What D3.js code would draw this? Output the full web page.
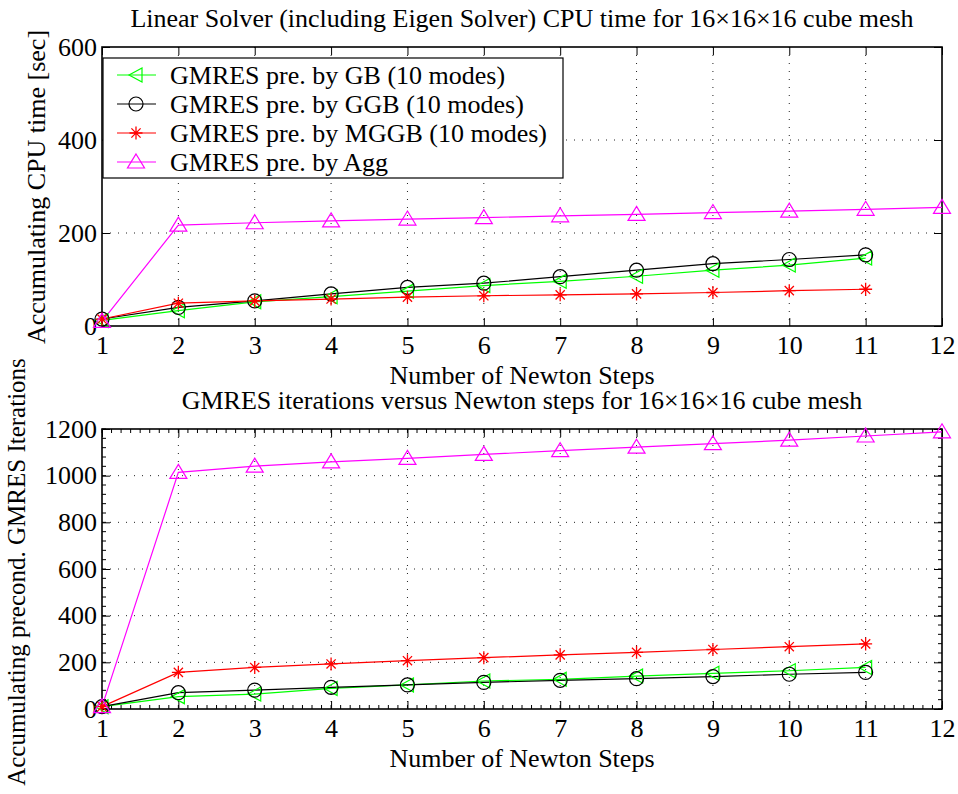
<!DOCTYPE html>
<html>
<head>
<meta charset="utf-8">
<script src="https://cdn.jsdelivr.net/npm/d3@7"></script>
<style>
  body { margin: 0; background: #fff; }
  svg text { font-family: "Liberation Serif", "Times New Roman", serif !important; fill: #000; }
</style>
</head>
<body>
<div id="chart-area"></div>
<script>
// Newton steps
let steps = [1, 2, 3, 4, 5, 6, 7, 8, 9, 10, 11];
let stepsAgg = [1, 2, 3, 4, 5, 6, 7, 8, 9, 10, 11, 12];
let xTicks = [1, 2, 3, 4, 5, 6, 7, 8, 9, 10, 11, 12];

// top panel: accumulated CPU time [sec]
let cpuGB   = [12, 33, 52, 63, 75, 87, 96, 107, 120, 131, 146];
let cpuGGB  = [15, 40, 54, 69, 83, 92, 106, 120, 134, 143, 153];
let cpuMGGB = [15, 49, 54, 58, 62, 65, 67, 69, 72, 76, 79];
let cpuAgg  = [10, 217, 222, 226, 230, 233, 237, 240, 244, 247, 251, 255];
let cpuTicks = [0, 200, 400, 600];

// bottom panel: accumulated GMRES iterations
let itGB   = [10, 53, 64, 88, 103, 120, 127, 141, 153, 164, 178];
let itGGB  = [10, 70, 81, 93, 103, 114, 123, 130, 139, 149, 157];
let itMGGB = [10, 157, 178, 193, 207, 220, 232, 243, 255, 267, 279];
let itAgg  = [10, 1014, 1041, 1059, 1074, 1091, 1107, 1122, 1137, 1152, 1170, 1188];
let itTicks = [0, 200, 400, 600, 800, 1000, 1200];

let seriesNames = ["GMRES pre. by GB (10 modes)", "GMRES pre. by GGB (10 modes)",
                   "GMRES pre. by MGGB (10 modes)", "GMRES pre. by Agg"];
let colors = ["#00ff00", "#000000", "#ff0000", "#ff00ff"];
let shapes = ["tri-left", "circle", "star", "tri-up"];

let W = 958, H = 794;
let FS = 26;
let svg = d3.select("#chart-area").append("svg")
    .attr("width", W).attr("height", H);

function marker(g, shape, color, cx, cy) {
    if (shape == "circle") {
        g.append("circle").attr("cx", cx).attr("cy", cy).attr("r", 7)
            .attr("fill", "none").attr("stroke", color).attr("stroke-width", 1.2);
    } else if (shape == "tri-left") {
        g.append("path")
            .attr("d", `M${cx-7},${cy} L${cx+6},${cy-7} L${cx+6},${cy+7} Z`)
            .attr("fill", "none").attr("stroke", color).attr("stroke-width", 1.2);
    } else if (shape == "tri-up") {
        g.append("path")
            .attr("d", `M${cx},${cy-8} L${cx+8.5},${cy+6} L${cx-8.5},${cy+6} Z`)
            .attr("fill", "none").attr("stroke", color).attr("stroke-width", 1.2);
    } else {
        let r = 6.5;
        let d = "";
        [0, 45, 90, 135].forEach(a => {
            let t = a * Math.PI / 180;
            d += `M${cx - r*Math.cos(t)},${cy - r*Math.sin(t)} L${cx + r*Math.cos(t)},${cy + r*Math.sin(t)} `;
        });
        g.append("path").attr("d", d).attr("stroke", color).attr("stroke-width", 1.3);
    }
}

function panel(opt) {
    let x = d3.scaleLinear().domain([1, 12]).range([opt.left, opt.right]);
    let y = d3.scaleLinear().domain([0, opt.ymax]).range([opt.bottom, opt.top]);
    let g = svg.append("g");

    // dotted grid
    g.append("g").selectAll("line.gx").data(xTicks.slice(1, -1)).enter().append("line")
        .attr("x1", d => x(d)).attr("x2", d => x(d))
        .attr("y1", opt.top).attr("y2", opt.bottom)
        .attr("stroke", "#222").attr("stroke-width", 1).attr("stroke-dasharray", "1,7");
    g.append("g").selectAll("line.gy").data(opt.yTicks.slice(1, -1)).enter().append("line")
        .attr("y1", d => y(d)).attr("y2", d => y(d))
        .attr("x1", opt.left).attr("x2", opt.right)
        .attr("stroke", "#222").attr("stroke-width", 1).attr("stroke-dasharray", "1,7");

    // axes with inward ticks on all sides
    let tl = 8;
    g.append("g").attr("transform", `translate(0,${opt.bottom})`)
        .call(d3.axisBottom(x).tickValues(xTicks).tickSize(-tl).tickPadding(10).tickFormat(d3.format("d")))
        .call(a => a.select(".domain").remove())
        .call(a => a.selectAll("text").attr("font-size", FS));
    g.append("g").attr("transform", `translate(0,${opt.top})`)
        .call(d3.axisTop(x).tickValues(xTicks).tickSize(-tl).tickFormat(""))
        .call(a => a.select(".domain").remove());
    g.append("g").attr("transform", `translate(${opt.left},0)`)
        .call(d3.axisLeft(y).tickValues(opt.yTicks).tickSize(-tl).tickPadding(5).tickFormat(d3.format("d")))
        .call(a => a.select(".domain").remove())
        .call(a => a.selectAll("text").attr("font-size", FS));
    g.append("g").attr("transform", `translate(${opt.right},0)`)
        .call(d3.axisRight(y).tickValues(opt.yTicks).tickSize(-tl).tickFormat(""))
        .call(a => a.select(".domain").remove());

    if (opt.minor) {
        let mx = d3.range(1, 12.001, 0.125);
        let my = d3.range(0, opt.ymax + 0.1, 40);
        let m = g.append("g").attr("stroke", "#000").attr("stroke-width", 1);
        mx.forEach(v => {
            m.append("line").attr("x1", x(v)).attr("x2", x(v)).attr("y1", opt.bottom).attr("y2", opt.bottom - 4);
            m.append("line").attr("x1", x(v)).attr("x2", x(v)).attr("y1", opt.top).attr("y2", opt.top + 4);
        });
        my.forEach(v => {
            m.append("line").attr("y1", y(v)).attr("y2", y(v)).attr("x1", opt.left).attr("x2", opt.left + 4);
            m.append("line").attr("y1", y(v)).attr("y2", y(v)).attr("x1", opt.right).attr("x2", opt.right - 4);
        });
    }

    g.append("rect").attr("x", opt.left).attr("y", opt.top)
        .attr("width", opt.right - opt.left).attr("height", opt.bottom - opt.top)
        .attr("fill", "none").attr("stroke", "#000").attr("stroke-width", 1.6);

    // series
    let line = d3.line().x(d => x(d[0])).y(d => y(d[1]));
    opt.series.forEach((vals, i) => {
        let xs = vals.length == 12 ? stepsAgg : steps;
        let pts = vals.map((v, j) => [xs[j], v]);
        g.append("path").datum(pts).attr("d", line)
            .attr("fill", "none").attr("stroke", colors[i]).attr("stroke-width", 1.2);
    });
    opt.series.forEach((vals, i) => {
        let xs = vals.length == 12 ? stepsAgg : steps;
        vals.forEach((v, j) => marker(g, shapes[i], colors[i], x(xs[j]), y(v)));
    });

    // titles
    g.append("text").attr("x", (opt.left + opt.right) / 2).attr("y", opt.top - 20)
        .attr("text-anchor", "middle").attr("font-size", FS).text(opt.title);
    g.append("text").attr("x", (opt.left + opt.right) / 2).attr("y", opt.bottom + 58)
        .attr("text-anchor", "middle").attr("font-size", FS).text("Number of Newton Steps");
    g.append("text").attr("transform", `translate(${opt.ylabX},${opt.ylabY}) rotate(-90)`)
        .attr("text-anchor", "middle").attr("font-size", opt.ylabFS).text(opt.ylabel);
    return { x, y, g };
}

panel({
    left: 102, right: 942, top: 47, bottom: 326, ymax: 600, yTicks: cpuTicks,
    series: [cpuGB, cpuGGB, cpuMGGB, cpuAgg], minor: false,
    title: "Linear Solver (including Eigen Solver) CPU time for 16×16×16 cube mesh",
    ylabel: "Accumulating CPU time [sec]", ylabX: 45, ylabY: 187, ylabFS: FS
});

panel({
    left: 102, right: 942, top: 429, bottom: 709, ymax: 1200, yTicks: itTicks,
    series: [itGB, itGGB, itMGGB, itAgg], minor: true,
    title: "GMRES iterations versus Newton steps for 16×16×16 cube mesh",
    ylabel: "Accumulating precond. GMRES Iterations", ylabX: 25, ylabY: 572, ylabFS: 25
});

// legend in the top panel
let lg = svg.append("g");
lg.append("rect").attr("x", 103).attr("y", 58).attr("width", 460).attr("height", 120)
    .attr("fill", "#fff").attr("stroke", "#000").attr("stroke-width", 1.2);
seriesNames.forEach((name, i) => {
    let yy = 75 + i * 29;
    lg.append("line").attr("x1", 117).attr("x2", 156).attr("y1", yy).attr("y2", yy)
        .attr("stroke", colors[i]).attr("stroke-width", 1.2);
    marker(lg, shapes[i], colors[i], 136, yy);
    lg.append("text").attr("x", 170).attr("y", yy + 9).attr("font-size", FS).text(name);
});
</script>
</body>
</html>
